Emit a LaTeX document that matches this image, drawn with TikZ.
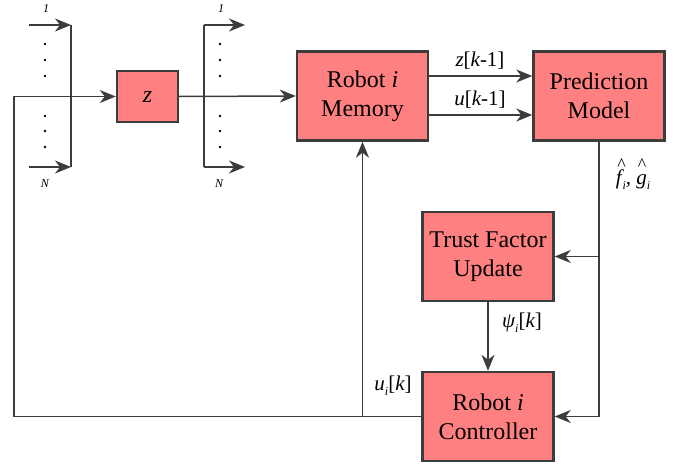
\documentclass[tikz,border=0pt]{standalone}
\usepackage{fontspec}
\setmainfont{Liberation Serif}
\newfontfamily\tnr{Liberation Serif}
\usetikzlibrary{arrows.meta}
\definecolor{boxfill}{HTML}{FF8080}
\definecolor{lin}{HTML}{3C3C3C}
\tikzset{
  blk/.style={draw=lin, line width=2.4pt, fill=boxfill, align=center, inner sep=0pt,
    font=\tnr\fontsize{24}{29}\selectfont, minimum width=131pt, minimum height=89pt},
  wire/.style={draw=lin, line width=1.5pt},
  arr/.style={wire, -{Stealth[length=16pt,width=13pt,inset=5pt]}},
  lbl/.style={font=\tnr\fontsize{21}{24}\selectfont, inner sep=0pt},
  tiny/.style={font=\tnr\itshape\fontsize{12}{14}\selectfont, inner sep=0pt},
  dotm/.style={circle, fill=black, inner sep=0pt, minimum size=2.8pt}
}
\newcommand{\mysub}[1]{\raisebox{-5pt}{\fontsize{12}{14}\selectfont\itshape #1}}
\newcommand{\myhat}[1]{\rlap{\hspace{1.5pt}\raisebox{14pt}{\upshape\fontsize{18}{18}\selectfont\textasciicircum}}\itshape #1}
\begin{document}
\begin{tikzpicture}[x=1pt,y=-1pt]
\useasboundingbox (0,0) rectangle (683,466);
% blocks
\node[blk, minimum width=61pt, minimum height=51pt] (z) at (147.5,96.5) {\itshape z};
\node[blk] (mem) at (362.5,96) {Robot \textit{i}\\Memory};
\node[blk] (pred) at (599,96) {Prediction\\Model};
\node[blk] (trust) at (488,256.5) {Trust Factor\\Update};
\node[blk] (ctrl) at (488,416.5) {Robot \textit{i}\\Controller};
% input bus
\coordinate (lbt) at (71,25);
\coordinate (lbb) at (71,167);
\coordinate (lin1) at (29,25);
\coordinate (linN) at (29,167);
\draw[wire] (lbt) -- (lbb);
\draw[arr] (lin1) -- (lbt);
\draw[arr] (linN) -- (lbb);
\node[tiny] (l1) at (46,9) {1};
\node[tiny] (lN) at (45,184) {N};
\foreach \yy [count=\k] in {44,60,76,116,131,147} {\node[dotm] (ld\k) at (45,\yy) {};}
% output bus
\coordinate (rbt) at (204,25);
\coordinate (rbb) at (204,167);
\coordinate (rout1) at (245,25);
\coordinate (routN) at (245,167);
\draw[wire] (rbt) -- (rbb);
\draw[arr] (rbt) -- (rout1);
\draw[arr] (rbb) -- (routN);
\node[tiny] (r1) at (221,9) {1};
\node[tiny] (rN) at (219,184) {N};
\foreach \yy [count=\k] in {44,60,76,116,131,147} {\node[dotm] (rd\k) at (220,\yy) {};}
% main path
\draw[arr] (z.east) -- (mem.west);
\coordinate (corner) at (14,416.5);
\draw[arr] (ctrl.west) -- (corner) |- (z.west);
\draw[arr] (mem.south |- ctrl.west) -- (mem.south);
\node[lbl] (ulab) at (393,386) {\itshape u\mysub{i}\upshape[\itshape k\upshape]};
% memory to prediction
\draw[arr] ([yshift=-19pt]mem.east) -- ([yshift=-19pt]mem.east -| pred.west);
\draw[arr] ([yshift=20pt]mem.east) -- ([yshift=20pt]mem.east -| pred.west);
\node[lbl] (zl) at (480,61) {\itshape z\upshape[\itshape k\upshape-1]};
\node[lbl] (ul) at (480,100) {\itshape u\upshape[\itshape k\upshape-1]};
% prediction outputs
\coordinate (pc) at (599,416.5);
\draw[wire] (pred.south) -- (pc);
\draw[arr] (pc) -- (ctrl.east);
\draw[arr] (pred.south |- trust.east) -- (trust.east);
\node[lbl] (fg) at (633,174) {\myhat{f}\hspace{1pt}\mysub{i}, \myhat{g}\mysub{i}};
% trust to controller
\draw[arr] (trust.south) -- (ctrl.north);
\node[lbl] (psil) at (522,323) {\itshape ψ\mysub{i}\upshape[\itshape k\upshape]};
\end{tikzpicture}
\end{document}
